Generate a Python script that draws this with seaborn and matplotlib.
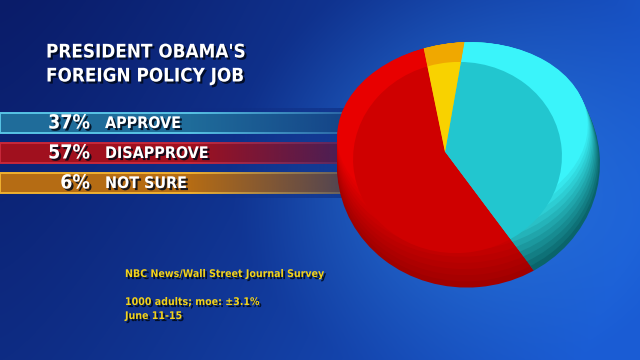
import numpy as np
import pandas as pd
import matplotlib
matplotlib.use("Agg")
import matplotlib.pyplot as plt
import matplotlib.patheffects as pe
from matplotlib.patches import Ellipse
from matplotlib.colors import to_rgb
import seaborn as sns

# ---- data ----
categories = ["APPROVE", "DISAPPROVE", "NOT SURE"]
values = [37, 57, 6]
value_labels = ["37%", "57%", "6%"]
title_lines = ["PRESIDENT OBAMA'S", "FOREIGN POLICY JOB"]
source_lines = ["NBC News/Wall Street Journal Survey",
                "1000 adults; moe: \u00b13.1%",
                "June 11-15"]

# ---- style ----
sns.set_theme(style="white")
plt.rcParams['font.family'] = ['Liberation Sans Narrow', 'DejaVu Sans']
plt.rcParams['font.weight'] = 'bold'
plt.rcParams['font.stretch'] = 'condensed'

bar_colors = ["#1f6c9a", "#a0101e", "#b56c14"]
bar_edges = ["#58c4e6", "#c8283a", "#f0b030"]
pie_dark = ["#0a646a", "#a00000", "#c08000"]
pie_bevel = ["#3af4fa", "#e80000", "#f0a800"]
pie_face = ["#22c6cf", "#cf0000", "#f8d200"]

W, H = 640, 360
fig = plt.figure(figsize=(6.4, 3.6), dpi=100)

# ---- background ----
ax_bg = fig.add_axes([0, 0, 1, 1])
yy, xx = np.mgrid[0:H, 0:W].astype(float)
t = np.clip((xx / W) ** 1.3 * 0.85 + (yy / H) * 0.25, 0, 1)
dark = np.array([10, 28, 105]) / 255
bright = np.array([26, 92, 212]) / 255
img = dark + (bright - dark) * t[..., None]
d = np.sqrt(((xx - 470) / 240) ** 2 + ((yy - 175) / 215) ** 2)
g = np.clip(1 - d, 0, 1) ** 1.2 * 0.55
glow = np.array([60, 160, 255]) / 255
img = img * (1 - g[..., None]) + glow * g[..., None]
ax_bg.imshow(np.clip(img, 0, 1), extent=(0, W, H, 0), aspect='auto')
ax_bg.set_xlim(0, W)
ax_bg.set_ylim(H, 0)
ax_bg.axis('off')

# ---- bands ----
ax_bar = fig.add_axes([0, 1 - 198 / H, 345 / W, 90 / H])
df = pd.DataFrame({"category": categories, "value": values})
df["band"] = 1.0
sns.barplot(data=df, x="band", y="category", hue="category",
            palette=bar_colors, orient='h', width=0.667, saturation=1,
            legend=False, ax=ax_bar)
for patch, ec in zip(ax_bar.patches, bar_edges):
    patch.set_edgecolor(ec)
    patch.set_linewidth(1.4)
fx = np.linspace(0, 1, 200)
alpha = np.clip((fx - 0.55) / 0.45, 0, 1) * 0.6
fade = np.zeros((1, 200, 4))
fade[..., :3] = np.array([14, 42, 125]) / 255
fade[..., 3] = alpha
ax_bar.imshow(fade, extent=(0, 1, 2.5, -0.5), aspect='auto', zorder=5)
ax_bar.set_xlim(0, 1)
ax_bar.set_ylim(2.5, -0.5)
ax_bar.axis('off')

# ---- pie ----
ax_pie = fig.add_axes([0, 0, 1, 1])
ax_pie.patch.set_alpha(0)
apex = (445, H - 152)


def pie_layer(cols, cx, cy, w, h):
    wedges, _ = ax_pie.pie(values, colors=cols, startangle=80,
                           counterclock=False, center=apex, radius=260,
                           wedgeprops=dict(linewidth=0))
    clip = Ellipse((cx, H - cy), w, h, angle=5, transform=ax_pie.transData)
    for wd in wedges:
        wd.set_clip_on(True)
        wd.set_clip_path(clip)


# outer ring: stacked layers from dark (bottom/right) to bright (top/left)
N = 12
top, left, right = 42.5, 337.0, 600.0
for k in range(N):
    f = k / (N - 1)
    bottom = 287.5 - f * 68
    cols = [tuple(np.array(to_rgb(a)) * (1 - f) + np.array(to_rgb(b)) * f)
            for a, b in zip(pie_dark, pie_bevel)]
    r = right - f * 12
    pie_layer(cols, (left + r) / 2, (top + bottom) / 2, r - left, bottom - top)
# face
pie_layer(pie_face, 457.5, 157.5, 209, 191)

ax_pie.set_aspect('auto')
ax_pie.set_xlim(0, W)
ax_pie.set_ylim(0, H)
ax_pie.axis('off')

# ---- text ----
ax_t = fig.add_axes([0, 0, 1, 1])
ax_t.patch.set_alpha(0)
ax_t.set_xlim(0, W)
ax_t.set_ylim(H, 0)
ax_t.axis('off')
shadow = [pe.withSimplePatchShadow(offset=(1.5, -1.5), shadow_rgbFace='#000818', alpha=0.85)]

for i, line in enumerate(title_lines):
    ax_t.text(46, 52 + i * 24, line, color='white', fontsize=13.5, fontweight='bold',
              ha='left', va='center', path_effects=shadow)

for i, (lab, cat) in enumerate(zip(value_labels, categories)):
    y = 123 + i * 30
    ax_t.text(90, y, lab, color='white', fontsize=14, fontweight='bold',
              ha='right', va='center', path_effects=shadow)
    ax_t.text(105, y + 0.5, cat, color='white', fontsize=11.5, fontweight='bold',
              ha='left', va='center', path_effects=shadow)

src_y = [274, 302, 316]
for line, y in zip(source_lines, src_y):
    ax_t.text(125, y, line, color='#f2d21a', fontsize=7.6, fontweight='bold',
              ha='left', va='center', path_effects=shadow)

fig.savefig("out.png", dpi=100)
